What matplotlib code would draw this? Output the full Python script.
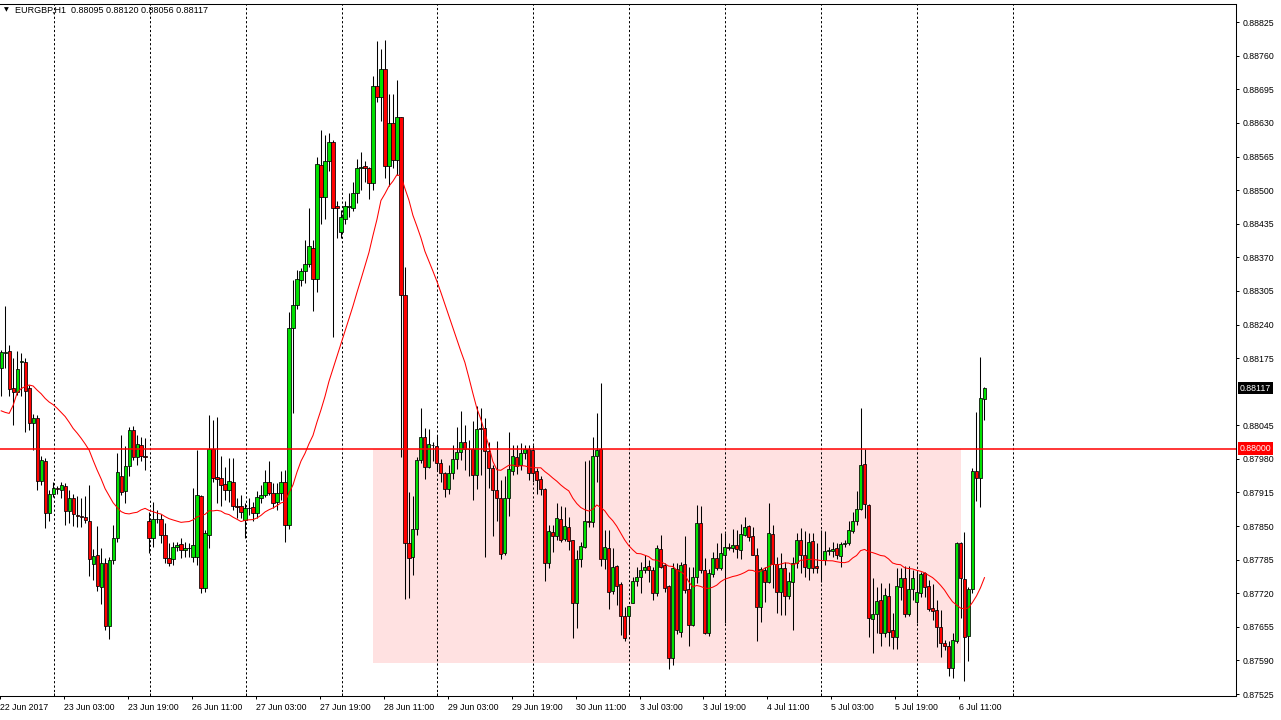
#!/usr/bin/env python3
import matplotlib
matplotlib.use("Agg")
import matplotlib.pyplot as plt
import numpy as np
from matplotlib.patches import Rectangle
from matplotlib import transforms

SYMBOL = "EURGBP,H1"

# H1 bars, 22 Jun 2017 11:00 .. 6 Jul 2017 17:00
opens = [
    0.88155, 0.88184, 0.88189, 0.88117, 0.88110, 0.88168, 0.88168, 0.88117, 0.88050, 0.88059,
    0.87938, 0.87976, 0.87875, 0.87912, 0.87923, 0.87920, 0.87928, 0.87880, 0.87904, 0.87871,
    0.87869, 0.87868, 0.87860, 0.87777, 0.87794, 0.87733, 0.87778, 0.87657, 0.87785, 0.87827,
    0.87947, 0.87917, 0.87966, 0.88036, 0.87983, 0.88007, 0.87986, 0.87860, 0.87827, 0.87863,
    0.87863, 0.87833, 0.87788, 0.87786, 0.87809, 0.87815, 0.87804, 0.87807, 0.87791, 0.87791,
    0.87908, 0.87730, 0.87833, 0.87999, 0.87945, 0.87943, 0.87931, 0.87920, 0.87935, 0.87888,
    0.87888, 0.87861, 0.87885, 0.87887, 0.87876, 0.87905, 0.87910, 0.87936, 0.87914, 0.87896,
    0.87914, 0.87936, 0.87852, 0.88233, 0.88278, 0.88326, 0.88344, 0.88357, 0.88389, 0.88329,
    0.88549, 0.88487, 0.88556, 0.88593, 0.88470, 0.88419, 0.88444, 0.88467, 0.88466, 0.88494,
    0.88542, 0.88547, 0.88542, 0.88513, 0.88701, 0.88681, 0.88735, 0.88547, 0.88630, 0.88559,
    0.88642, 0.88297, 0.87818, 0.87790, 0.87844, 0.87978, 0.88022, 0.87964, 0.88007, 0.88005,
    0.87973, 0.87952, 0.87922, 0.87952, 0.87979, 0.87993, 0.88012, 0.87999, 0.87999, 0.87948,
    0.88039, 0.88039, 0.87995, 0.87962, 0.87919, 0.87905, 0.87797, 0.87904, 0.87957, 0.87983,
    0.87968, 0.87991, 0.87999, 0.87997, 0.87957, 0.87941, 0.87922, 0.87779, 0.87838, 0.87830,
    0.87863, 0.87825, 0.87849, 0.87823, 0.87701, 0.87786, 0.87810, 0.87860, 0.87857, 0.87986,
    0.87999, 0.87786, 0.87807, 0.87725, 0.87773, 0.87737, 0.87676, 0.87676, 0.87702, 0.87744,
    0.87752, 0.87765, 0.87772, 0.87765, 0.87720, 0.87805, 0.87775, 0.87734, 0.87594, 0.87766,
    0.87646, 0.87776, 0.87728, 0.87659, 0.87751, 0.87855, 0.87765, 0.87644, 0.87757, 0.87788,
    0.87768, 0.87795, 0.87809, 0.87807, 0.87813, 0.87804, 0.87833, 0.87850, 0.87830, 0.87795,
    0.87693, 0.87765, 0.87741, 0.87835, 0.87777, 0.87723, 0.87768, 0.87715, 0.87741, 0.87779,
    0.87823, 0.87794, 0.87768, 0.87821, 0.87773, 0.87784, 0.87784, 0.87802, 0.87802, 0.87807,
    0.87793, 0.87815, 0.87817, 0.87841, 0.87859, 0.87884, 0.87970, 0.87891, 0.87670, 0.87680,
    0.87707, 0.87644, 0.87715, 0.87648, 0.87635, 0.87732, 0.87749, 0.87680, 0.87728, 0.87704,
    0.87721, 0.87759, 0.87734, 0.87691, 0.87688, 0.87654, 0.87623, 0.87618, 0.87575, 0.87627,
    0.87818, 0.87748, 0.87638, 0.87728, 0.87956, 0.87943, 0.88095,
]
highs = [
    0.88191, 0.88276, 0.88201, 0.88175, 0.88188, 0.88184, 0.88175, 0.88123, 0.88067, 0.88065,
    0.87985, 0.87981, 0.87920, 0.87936, 0.87928, 0.87936, 0.87933, 0.87920, 0.87912, 0.87908,
    0.87904, 0.87908, 0.87930, 0.87806, 0.87850, 0.87807, 0.87788, 0.87791, 0.87852, 0.87991,
    0.88026, 0.88004, 0.88041, 0.88043, 0.88026, 0.88023, 0.88021, 0.87878, 0.87897, 0.87881,
    0.87874, 0.87856, 0.87817, 0.87820, 0.87820, 0.87827, 0.87820, 0.87817, 0.87923, 0.87997,
    0.87910, 0.87842, 0.88065, 0.88056, 0.88062, 0.87986, 0.87965, 0.87981, 0.87981, 0.87904,
    0.87910, 0.87894, 0.87904, 0.87896, 0.87917, 0.87930, 0.87959, 0.87975, 0.87933, 0.87933,
    0.87956, 0.87959, 0.88265, 0.88326, 0.88346, 0.88349, 0.88404, 0.88465, 0.88404, 0.88565,
    0.88616, 0.88607, 0.88611, 0.88597, 0.88479, 0.88462, 0.88479, 0.88495, 0.88515, 0.88561,
    0.88574, 0.88556, 0.88545, 0.88721, 0.88789, 0.88774, 0.88790, 0.88687, 0.88687, 0.88713,
    0.88642, 0.88352, 0.87915, 0.87909, 0.87983, 0.88079, 0.88040, 0.88037, 0.88013, 0.88026,
    0.87979, 0.87955, 0.87969, 0.88007, 0.88042, 0.88073, 0.88046, 0.88017, 0.88054, 0.88082,
    0.88079, 0.88060, 0.88013, 0.87968, 0.88015, 0.87939, 0.87946, 0.88033, 0.88007, 0.88007,
    0.88010, 0.88007, 0.88007, 0.88007, 0.87962, 0.87947, 0.87923, 0.87852, 0.87852, 0.87894,
    0.87889, 0.87886, 0.87868, 0.87823, 0.87804, 0.87820, 0.87975, 0.87978, 0.88023, 0.88069,
    0.88127, 0.87842, 0.87842, 0.87807, 0.87775, 0.87742, 0.87694, 0.87695, 0.87752, 0.87771,
    0.87781, 0.87794, 0.87784, 0.87771, 0.87813, 0.87833, 0.87778, 0.87736, 0.87779, 0.87779,
    0.87781, 0.87830, 0.87771, 0.87771, 0.87891, 0.87889, 0.87788, 0.87766, 0.87800, 0.87817,
    0.87836, 0.87836, 0.87817, 0.87844, 0.87842, 0.87854, 0.87868, 0.87852, 0.87849, 0.87807,
    0.87771, 0.87771, 0.87894, 0.87852, 0.87791, 0.87797, 0.87781, 0.87762, 0.87791, 0.87837,
    0.87846, 0.87841, 0.87836, 0.87836, 0.87817, 0.87843, 0.87841, 0.87810, 0.87820, 0.87817,
    0.87820, 0.87823, 0.87859, 0.87878, 0.87917, 0.88078, 0.87999, 0.87892, 0.87749, 0.87733,
    0.87739, 0.87730, 0.87739, 0.87681, 0.87768, 0.87768, 0.87773, 0.87772, 0.87765, 0.87762,
    0.87762, 0.87762, 0.87746, 0.87738, 0.87706, 0.87688, 0.87629, 0.87627, 0.87644, 0.87820,
    0.87820, 0.87838, 0.87732, 0.87962, 0.88070, 0.88177, 0.88120,
]
lows = [
    0.88101, 0.88155, 0.88101, 0.88046, 0.88104, 0.88102, 0.88033, 0.88036, 0.87997, 0.87919,
    0.87930, 0.87846, 0.87860, 0.87907, 0.87912, 0.87904, 0.87852, 0.87856, 0.87851, 0.87849,
    0.87848, 0.87856, 0.87754, 0.87746, 0.87725, 0.87699, 0.87648, 0.87631, 0.87777, 0.87820,
    0.87910, 0.87894, 0.87947, 0.87978, 0.87968, 0.87975, 0.87959, 0.87797, 0.87810, 0.87856,
    0.87817, 0.87778, 0.87772, 0.87775, 0.87801, 0.87788, 0.87791, 0.87791, 0.87780, 0.87775,
    0.87721, 0.87722, 0.87807, 0.87936, 0.87894, 0.87889, 0.87901, 0.87897, 0.87881, 0.87865,
    0.87865, 0.87827, 0.87872, 0.87859, 0.87865, 0.87894, 0.87907, 0.87910, 0.87885, 0.87881,
    0.87901, 0.87820, 0.87844, 0.88068, 0.88270, 0.88314, 0.88320, 0.88352, 0.88267, 0.88302,
    0.88435, 0.88444, 0.88537, 0.88216, 0.88408, 0.88408, 0.88435, 0.88448, 0.88460, 0.88476,
    0.88501, 0.88515, 0.88483, 0.88501, 0.88671, 0.88633, 0.88524, 0.88508, 0.88542, 0.88529,
    0.87984, 0.87708, 0.87711, 0.87756, 0.87833, 0.87972, 0.87942, 0.87962, 0.87975, 0.87958,
    0.87936, 0.87906, 0.87913, 0.87942, 0.87960, 0.87977, 0.87958, 0.87946, 0.87901, 0.87922,
    0.87949, 0.87791, 0.87923, 0.87831, 0.87859, 0.87786, 0.87794, 0.87870, 0.87949, 0.87951,
    0.87958, 0.87979, 0.87939, 0.87936, 0.87912, 0.87911, 0.87744, 0.87768, 0.87800, 0.87823,
    0.87820, 0.87822, 0.87804, 0.87633, 0.87652, 0.87771, 0.87807, 0.87848, 0.87849, 0.87936,
    0.87773, 0.87766, 0.87689, 0.87719, 0.87697, 0.87639, 0.87628, 0.87642, 0.87701, 0.87734,
    0.87720, 0.87759, 0.87741, 0.87706, 0.87715, 0.87768, 0.87723, 0.87573, 0.87581, 0.87642,
    0.87636, 0.87721, 0.87618, 0.87657, 0.87739, 0.87760, 0.87642, 0.87637, 0.87752, 0.87765,
    0.87765, 0.87663, 0.87804, 0.87799, 0.87788, 0.87786, 0.87830, 0.87822, 0.87794, 0.87628,
    0.87665, 0.87704, 0.87739, 0.87730, 0.87681, 0.87678, 0.87678, 0.87708, 0.87649, 0.87768,
    0.87759, 0.87751, 0.87746, 0.87759, 0.87760, 0.87742, 0.87775, 0.87794, 0.87791, 0.87786,
    0.87770, 0.87810, 0.87813, 0.87836, 0.87852, 0.87881, 0.87865, 0.87636, 0.87605, 0.87643,
    0.87618, 0.87635, 0.87618, 0.87613, 0.87612, 0.87707, 0.87675, 0.87676, 0.87707, 0.87663,
    0.87713, 0.87713, 0.87686, 0.87669, 0.87616, 0.87596, 0.87611, 0.87559, 0.87556, 0.87623,
    0.87672, 0.87551, 0.87588, 0.87721, 0.87899, 0.87887, 0.88056,
]
closes = [
    0.88186, 0.88187, 0.88115, 0.88110, 0.88153, 0.88170, 0.88112, 0.88049, 0.88059, 0.87938,
    0.87978, 0.87875, 0.87912, 0.87923, 0.87922, 0.87929, 0.87880, 0.87904, 0.87874, 0.87870,
    0.87868, 0.87861, 0.87786, 0.87792, 0.87735, 0.87778, 0.87657, 0.87785, 0.87827, 0.87954,
    0.87916, 0.87966, 0.88036, 0.87983, 0.88008, 0.87986, 0.87983, 0.87827, 0.87863, 0.87864,
    0.87833, 0.87788, 0.87778, 0.87810, 0.87814, 0.87804, 0.87808, 0.87807, 0.87814, 0.87910,
    0.87730, 0.87836, 0.87999, 0.87943, 0.87942, 0.87930, 0.87920, 0.87937, 0.87888, 0.87887,
    0.87878, 0.87885, 0.87885, 0.87876, 0.87907, 0.87910, 0.87936, 0.87914, 0.87894, 0.87914,
    0.87936, 0.87852, 0.88233, 0.88278, 0.88328, 0.88344, 0.88357, 0.88391, 0.88328, 0.88551,
    0.88487, 0.88556, 0.88593, 0.88466, 0.88466, 0.88448, 0.88470, 0.88469, 0.88494, 0.88542,
    0.88545, 0.88542, 0.88513, 0.88701, 0.88681, 0.88735, 0.88547, 0.88630, 0.88559, 0.88642,
    0.88298, 0.87818, 0.87788, 0.87844, 0.87978, 0.88022, 0.87965, 0.88008, 0.88006, 0.87973,
    0.87952, 0.87921, 0.87953, 0.87979, 0.87993, 0.88012, 0.87999, 0.87999, 0.87948, 0.88037,
    0.88037, 0.87995, 0.87962, 0.87919, 0.87905, 0.87796, 0.87905, 0.87960, 0.87986, 0.87967,
    0.87991, 0.87999, 0.87952, 0.87953, 0.87939, 0.87921, 0.87779, 0.87840, 0.87830, 0.87866,
    0.87823, 0.87850, 0.87822, 0.87701, 0.87786, 0.87811, 0.87860, 0.87857, 0.87986, 0.87997,
    0.87786, 0.87809, 0.87723, 0.87770, 0.87734, 0.87676, 0.87633, 0.87695, 0.87744, 0.87751,
    0.87765, 0.87771, 0.87765, 0.87720, 0.87807, 0.87771, 0.87731, 0.87594, 0.87768, 0.87648,
    0.87775, 0.87726, 0.87659, 0.87751, 0.87855, 0.87765, 0.87644, 0.87759, 0.87788, 0.87768,
    0.87797, 0.87809, 0.87808, 0.87813, 0.87806, 0.87835, 0.87848, 0.87828, 0.87795, 0.87693,
    0.87766, 0.87741, 0.87836, 0.87777, 0.87723, 0.87768, 0.87715, 0.87744, 0.87779, 0.87823,
    0.87795, 0.87770, 0.87819, 0.87768, 0.87768, 0.87784, 0.87802, 0.87803, 0.87806, 0.87794,
    0.87815, 0.87817, 0.87842, 0.87860, 0.87884, 0.87968, 0.87892, 0.87673, 0.87680, 0.87705,
    0.87644, 0.87717, 0.87646, 0.87635, 0.87734, 0.87750, 0.87680, 0.87728, 0.87750, 0.87723,
    0.87757, 0.87733, 0.87690, 0.87685, 0.87654, 0.87623, 0.87617, 0.87575, 0.87629, 0.87817,
    0.87749, 0.87635, 0.87728, 0.87957, 0.87943, 0.88097, 0.88117,
]

# MA(24) for the first bars, whose history is off screen
ma_head = [
    0.88073, 0.88070, 0.88068, 0.88084, 0.88108, 0.88116, 0.88120, 0.88123, 0.88121, 0.88113,
    0.88106, 0.88097, 0.88090, 0.88085, 0.88078, 0.88070, 0.88062, 0.88051, 0.88039, 0.88030,
    0.88020, 0.88009, 0.87997,
]
MA_PERIOD = 24

time_labels = ["22 Jun 2017", "23 Jun 03:00", "23 Jun 19:00", "26 Jun 11:00", "27 Jun 03:00",
               "27 Jun 19:00", "28 Jun 11:00", "29 Jun 03:00", "29 Jun 19:00", "30 Jun 11:00",
               "3 Jul 03:00", "3 Jul 19:00", "4 Jul 11:00", "5 Jul 03:00", "5 Jul 19:00",
               "6 Jul 11:00"]
label_bars = [0, 16, 32, 48, 64, 80, 96, 112, 128, 144, 160, 176, 192, 208, 224, 240]
day_bars = [13, 37, 61, 85, 109, 133, 157, 181, 205, 229, 253]   # midnight separators

price_ticks = [0.88825, 0.88760, 0.88695, 0.88630, 0.88565, 0.88500, 0.88435, 0.88370,
               0.88305, 0.88240, 0.88175, 0.88045, 0.87980, 0.87915, 0.87850,
               0.87785, 0.87720, 0.87655, 0.87590, 0.87525]

level = 0.88000
zone_bars = (93, 240)
zone_prices = (0.87585, 0.88000)

BULL = "#00e000"
BEAR = "#ff0000"
FONT = ["Liberation Sans", "DejaVu Sans"]


def main():
    o = np.array(opens)
    h = np.array(highs)
    l = np.array(lows)
    c = np.array(closes)
    x = np.arange(len(c))

    sma = np.convolve(c, np.ones(MA_PERIOD) / MA_PERIOD, mode="valid")
    ma = np.concatenate([ma_head, sma])

    plt.rcParams["font.family"] = FONT
    fig = plt.figure(figsize=(12.81, 7.2), dpi=100)
    ax = fig.add_axes([0, 24 / 720, 1236 / 1281, 692.5 / 720])
    ax.set_xlim(-0.075, 308.925)
    ax.set_ylim(0.875212, 0.888612)

    # support zone
    ax.add_patch(Rectangle((zone_bars[0], zone_prices[0]), zone_bars[1] - zone_bars[0],
                           zone_prices[1] - zone_prices[0], facecolor="#ffe1e1",
                           edgecolor="none", zorder=0.5))

    for b in day_bars:
        ax.axvline(b + 0.15, color="black", lw=0.72, dashes=(2.2, 2.2), zorder=1)

    ax.vlines(x, l, h, color="black", lw=0.75, zorder=2)
    up = c >= o
    ax.bar(x, np.abs(c - o), bottom=np.minimum(o, c), width=0.8,
           color=np.where(up, BULL, BEAR), edgecolor="black", linewidth=0.55, zorder=3)

    ax.plot(x, ma, color="#ff0000", lw=0.75, zorder=4)
    ax.axhline(level, color="#ff0000", lw=1.1, zorder=5)

    # axes frame like the terminal
    ax.spines["left"].set_visible(False)
    for s in ("top", "right", "bottom"):
        ax.spines[s].set_linewidth(0.75)

    ax.yaxis.tick_right()
    ax.set_yticks(price_ticks)
    ax.set_yticklabels([f"{p:.5f}" for p in price_ticks])
    ax.tick_params(axis="y", direction="out", length=2.5, width=0.72, pad=2.5,
                   labelsize=6.3)

    ax.set_xticks([b - 0.3 for b in label_bars])
    ax.set_xticklabels(time_labels)
    for t in ax.get_xticklabels():
        t.set_ha("left")
    ax.tick_params(axis="x", direction="out", length=2.5, width=0.72, pad=2.5,
                   labelsize=6.3)
    ax.set_xticks([b + 0.15 for b in day_bars], minor=True)
    ax.tick_params(axis="x", which="minor", direction="in", length=2.5, width=0.72)

    # price tags on the scale
    tr = transforms.blended_transform_factory(ax.transAxes, ax.transData)
    ax.text(1.0 + 4 / 1236, level, f"{level:.5f}", transform=tr, ha="left", va="center",
            fontsize=6.3, color="white",
            bbox=dict(boxstyle="square,pad=0.2", fc="#ff0000", ec="none"))
    ax.text(1.0 + 4 / 1236, closes[-1], f"{closes[-1]:.5f}", transform=tr, ha="left",
            va="center", fontsize=6.3, color="white",
            bbox=dict(boxstyle="square,pad=0.2", fc="black", ec="none"))

    fig.text(4 / 1281, 1 - 10 / 720, "\u25bc", fontsize=4.5, va="center",
             family="DejaVu Sans")
    fig.text(15 / 1281, 1 - 10 / 720,
             f"{SYMBOL}  {opens[-1]:.5f} {highs[-1]:.5f} {lows[-1]:.5f} {closes[-1]:.5f}",
             fontsize=6.5, va="center")

    fig.savefig("out.png", dpi=100)
    plt.close(fig)


if __name__ == "__main__":
    main()
